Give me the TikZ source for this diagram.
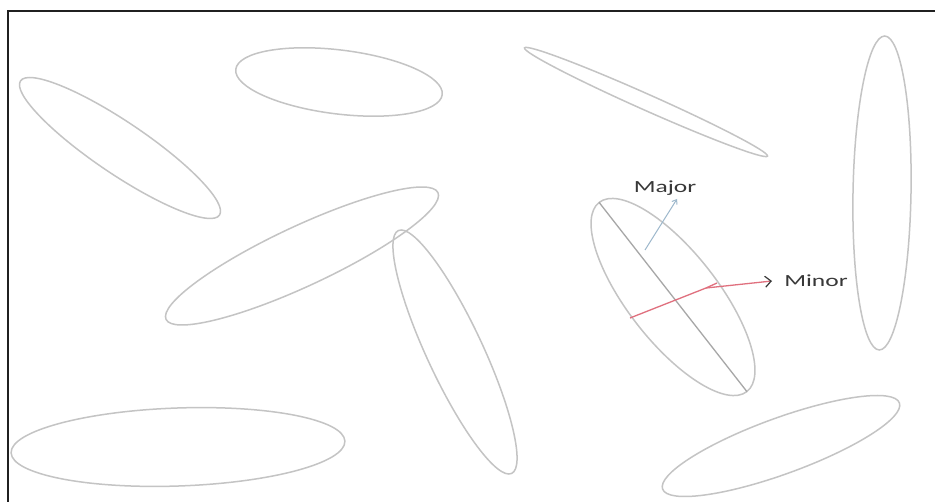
\documentclass[tikz,border=0pt]{standalone}
\usepackage{fontspec}
\setmainfont{Carlito}
\usetikzlibrary{arrows.meta}
\definecolor{elgray}{HTML}{C4C4C4}
\definecolor{framec}{HTML}{202020}
\definecolor{minred}{HTML}{E0707E}
\definecolor{majblue}{HTML}{9DB8CC}
\definecolor{txtc}{HTML}{383838}
\tikzset{
  elps/.style={draw=elgray, line width=1.5pt},
  lbl/.style={text=txtc, font=\fontsize{17}{19}\selectfont, xscale=1.5, inner sep=0pt},
  frm/.style={draw=framec, line width=2pt},
}
\begin{document}
\begin{tikzpicture}[x=1pt,y=-1pt]
\useasboundingbox (0,0) rectangle (935,502);
\fill[white] (0,0) rectangle (935,502);
% frame
\coordinate (f1) at (8,502);
\coordinate (f2) at (8,11);
\coordinate (f3) at (935,11);
\draw[frm] (f1) -- (f2) -- (f3);
% ellipses
\draw[elps, shift={(120,148)}, rotate=-34] (0,0) ellipse [x radius=120pt, y radius=26pt];
\draw[elps, shift={(339,82)}, rotate=-7] (0,0) ellipse [x radius=104pt, y radius=32pt];
\draw[elps, shift={(646,102)}, rotate=-24] (0,0) ellipse [x radius=133pt, y radius=8pt];
\draw[elps, shift={(882,193)}, rotate=-91] (0,0) ellipse [x radius=157pt, y radius=29pt];
\draw[elps, shift={(302,256)}, rotate=25] (0,0) ellipse [x radius=150pt, y radius=30pt];
\draw[elps, shift={(455,352)}, rotate=-65] (0,0) ellipse [x radius=134pt, y radius=28pt];
\draw[elps, shift={(178,447)}, rotate=2] (0,0) ellipse [x radius=167pt, y radius=39pt];
\draw[elps, shift={(781,446)}, rotate=20] (0,0) ellipse [x radius=126pt, y radius=28pt];
% main ellipse
\begin{scope}[shift={(673,297)}, rotate=-52]
  \draw[elps] (0,0) ellipse [x radius=120pt, y radius=45pt];
  \coordinate (ma) at (-120pt,0pt);
  \coordinate (mb) at (120pt,0pt);
\end{scope}
\draw[draw=elgray!85!black, line width=1.3pt] (ma) -- (mb);
% labels
\node[lbl] (major) at (665,188) {Major};
\node[lbl] (minor) at (816,281) {Minor};
% major pointer
\coordinate (mp) at (645,250);
\coordinate (mq) at (677,199);
\draw[majblue, line width=1pt, -{Straight Barb[length=4pt,width=6pt]}] (mp) -- (mq);
% minor line
\coordinate (m1) at (630,318);
\coordinate (m2) at (706,288);
\coordinate (m3) at (717,283);
\coordinate (m4) at (772,281);
\draw[minred, line width=1.3pt] (m1) -- (m2) -- (m3);
\draw[minred, line width=1.3pt, -{Straight Barb[length=6pt,width=11pt,color=txtc,line width=1.2pt]}] (m2) -- (m4);
\end{tikzpicture}
\end{document}
